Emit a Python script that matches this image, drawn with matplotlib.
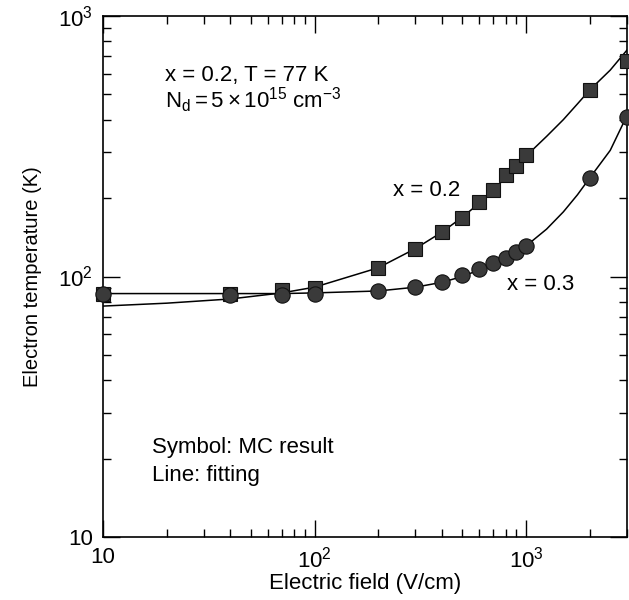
import matplotlib
matplotlib.use('Agg')
import matplotlib.pyplot as plt
from matplotlib.ticker import FixedLocator, FixedFormatter, LogLocator, NullFormatter

plt.rcParams['font.family'] = ['Liberation Sans', 'DejaVu Sans']
plt.rcParams['mathtext.fontset'] = 'custom'
plt.rcParams['mathtext.rm'] = 'Liberation Sans'
plt.rcParams['mathtext.it'] = 'Liberation Sans:italic'
plt.rcParams['mathtext.bf'] = 'Liberation Sans:bold'

# MC results
field = [10, 40, 70, 100, 200, 300, 400, 500, 600, 700, 800, 900, 1000, 2000, 3000]
temp_x02 = [86, 86, 88.5, 90.5, 108, 128, 148, 168, 193, 214, 245, 266, 292, 520, 670]
temp_x03 = [86, 85, 85, 85.5, 88, 91, 95, 101, 107, 113, 118, 124, 131, 239, 409]

# fitting lines
fit_field = [10, 20, 40, 70, 100, 200, 300, 400, 500, 600, 700, 800, 900, 1000,
             1250, 1500, 1750, 2000, 2500, 3000]
fit_x02 = [77, 79, 82, 86.5, 91, 108, 128, 148, 169, 191, 214, 240, 265, 290,
           345, 400, 460, 520, 620, 740]
fit_x03 = [86, 86, 86, 86, 86.5, 88, 91, 95, 100, 106, 112, 118, 124, 131,
           152, 177, 206, 239, 305, 415]

xticks = [10, 100, 1000]
xticklabels = ['10', r'$\mathregular{10^2}$', r'$\mathregular{10^3}$']
yticks = [10, 100, 1000]
yticklabels = ['10', r'$\mathregular{10^2}$', r'$\mathregular{10^3}$']

fig = plt.figure(figsize=(6.29, 6.0), dpi=100)
ax = fig.add_axes([0.1638, 0.105, 0.833, 0.8683])
ax.set_xscale('log')
ax.set_yscale('log')
ax.set_xlim(10, 3000)
ax.set_ylim(10, 1000)

ax.plot(fit_field, fit_x02, color='black', lw=1.1, zorder=2)
ax.plot(fit_field, fit_x03, color='black', lw=1.1, zorder=2)
ax.plot(field, temp_x02, linestyle='none', marker='s', markersize=10.5,
        markerfacecolor='#3a3a3a', markeredgecolor='#111111', markeredgewidth=0.8,
        zorder=3, clip_on=False)
ax.plot(field, temp_x03, linestyle='none', marker='o', markersize=11,
        markerfacecolor='#3a3a3a', markeredgecolor='#111111', markeredgewidth=0.8,
        zorder=3, clip_on=False)

ax.xaxis.set_major_locator(FixedLocator(xticks))
ax.xaxis.set_major_formatter(FixedFormatter(xticklabels))
ax.yaxis.set_major_locator(FixedLocator(yticks))
ax.yaxis.set_major_formatter(FixedFormatter(yticklabels))
ax.xaxis.set_minor_locator(LogLocator(base=10, subs=range(2, 10)))
ax.yaxis.set_minor_locator(LogLocator(base=10, subs=range(2, 10)))
ax.xaxis.set_minor_formatter(NullFormatter())
ax.yaxis.set_minor_formatter(NullFormatter())

ax.tick_params(which='both', direction='in', top=True, right=True, width=1.0,
               colors='black', labelsize=16)
ax.tick_params(which='major', length=12, pad=7)
ax.tick_params(which='minor', length=6)
for s in ax.spines.values():
    s.set_linewidth(1.2)

ax.set_xlabel('Electric field (V/cm)', fontsize=16, labelpad=0)
ax.set_ylabel('Electron temperature (K)', fontsize=14.5, labelpad=12)

fs = 16
ax.text(0.118, 0.885, 'x = 0.2, T = 77 K', transform=ax.transAxes, fontsize=fs,
        ha='left', va='center')
ax.text(0.118, 0.838, r'$\mathregular{N_d = 5\times10^{15}\ cm^{-3}}$',
        transform=ax.transAxes, fontsize=fs, ha='left', va='center')
ax.text(0.553, 0.666, 'x = 0.2', transform=ax.transAxes, fontsize=fs,
        ha='left', va='center')
ax.text(0.771, 0.484, 'x = 0.3', transform=ax.transAxes, fontsize=fs,
        ha='left', va='center')
ax.text(0.093, 0.171, 'Symbol: MC result', transform=ax.transAxes, fontsize=fs,
        ha='left', va='center')
ax.text(0.093, 0.119, 'Line: fitting', transform=ax.transAxes, fontsize=fs,
        ha='left', va='center')

fig.savefig('out.png', dpi=100)
